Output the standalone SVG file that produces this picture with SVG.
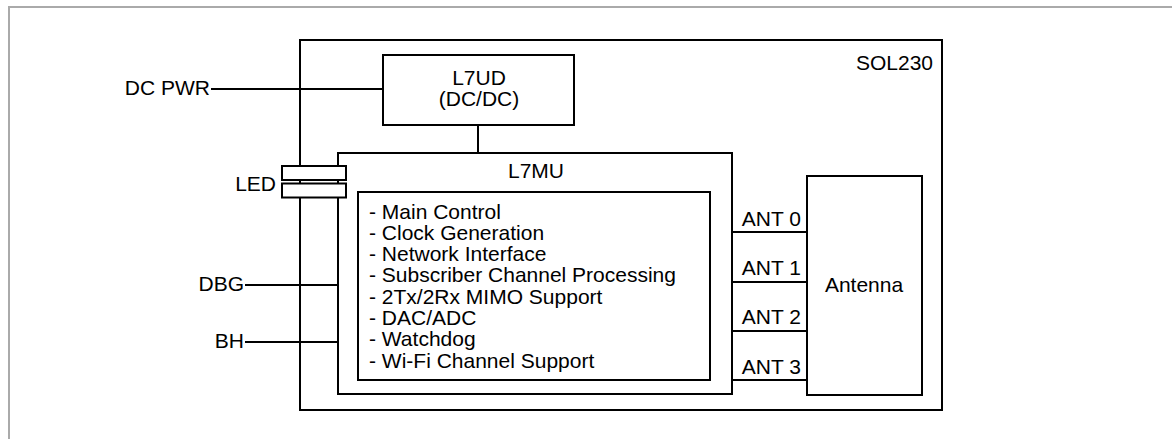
<svg xmlns="http://www.w3.org/2000/svg" width="1172" height="439" viewBox="0 0 1172 439">
<style>
.b{fill:#fff;stroke:#000;stroke-width:2}
.w{fill:none;stroke:#000;stroke-width:2}
text{font-family:"Liberation Sans",Arial,sans-serif;font-size:21px;fill:#000}
.c{text-anchor:middle}
.e{text-anchor:end}
</style>
<rect width="1172" height="439" fill="#fff"/>
<path d="M9,439 V7 H1172" fill="none" stroke="#aaa" stroke-width="2"/>
<g id="sol230">
<rect class="b" x="300" y="40" width="642" height="370"/>
<text class="e" x="933" y="70">SOL230</text>
</g>
<g id="connectors">
<line class="w" x1="211" y1="89" x2="383" y2="89"/>
<line class="w" x1="478" y1="125" x2="478" y2="153"/>
<line class="w" x1="245" y1="285" x2="338" y2="285"/>
<line class="w" x1="245" y1="342" x2="338" y2="342"/>
<line class="w" x1="732" y1="232" x2="807" y2="232"/>
<line class="w" x1="732" y1="282" x2="807" y2="282"/>
<line class="w" x1="732" y1="331" x2="807" y2="331"/>
<line class="w" x1="732" y1="380" x2="807" y2="380"/>
</g>
<g id="l7ud">
<rect class="b" x="383" y="55" width="191" height="70"/>
<text class="c" x="479" y="85">L7UD</text>
<text class="c" x="479" y="106">(DC/DC)</text>
</g>
<g id="l7mu">
<rect class="b" x="338" y="153" width="394" height="241"/>
<text class="c" x="536" y="178">L7MU</text>
</g>
<g id="functions">
<rect class="b" x="358" y="192" width="352" height="188"/>
<text x="369" y="218.5">- Main Control</text>
<text x="369" y="239.8">- Clock Generation</text>
<text x="369" y="261.1">- Network Interface</text>
<text x="369" y="282.4">- Subscriber Channel Processing</text>
<text x="369" y="303.7">- 2Tx/2Rx MIMO Support</text>
<text x="369" y="325">- DAC/ADC</text>
<text x="369" y="346.3">- Watchdog</text>
<text x="369" y="367.6">- Wi-Fi Channel Support</text>
</g>
<g id="led">
<rect class="b" x="282" y="166" width="64" height="14"/>
<rect class="b" x="282" y="183.5" width="64" height="14"/>
<line class="w" x1="300" y1="180" x2="300" y2="183.5"/>
<line class="w" x1="338" y1="180" x2="338" y2="183.5"/>
<text class="e" x="276" y="190.5">LED</text>
</g>
<g id="antenna">
<rect class="b" x="807" y="176" width="115" height="219"/>
<text class="c" x="864" y="291.5">Antenna</text>
</g>
<g id="labels">
<text class="e" x="210" y="95">DC PWR</text>
<text class="e" x="244" y="291">DBG</text>
<text class="e" x="244" y="348">BH</text>
<text class="e" x="801" y="225.5">ANT 0</text>
<text class="e" x="801" y="275">ANT 1</text>
<text class="e" x="801" y="324.3">ANT 2</text>
<text class="e" x="801" y="373.5">ANT 3</text>
</g>
</svg>
